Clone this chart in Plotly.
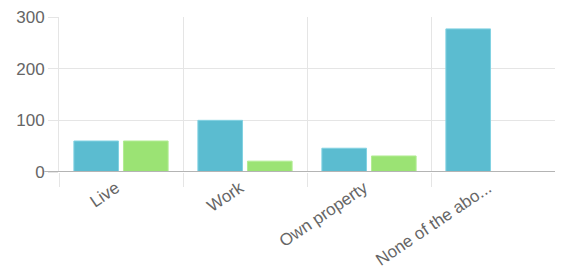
import plotly.graph_objects as go

categories = ["Live", "Work", "Own property", "None of the abo..."]
series_a = [60, 100, 46, 277]
series_b = [60, 21, 31, 0]
y_ticks = [0, 100, 200, 300]

xs = list(range(len(categories)))
font = dict(family="Liberation Sans, Arial, sans-serif", size=17, color="#666666")

# page body has an 8px default margin: compensate in figure size/margins
fig = go.Figure()
fig.add_bar(x=xs, y=series_a, marker=dict(color="#5bbcd0", line=dict(color="#82d2e2", width=1)))
fig.add_bar(x=xs, y=series_b, marker=dict(color="#9be374", line=dict(color="#b2ec93", width=1)))
# invisible trace to drive the label axis
fig.add_scatter(x=xs, y=[0]*len(xs), xaxis="x2", mode="markers", marker=dict(opacity=0), hoverinfo="skip")

fig.update_layout(
    width=556, height=261,
    margin=dict(l=51, r=9, t=9, b=97),
    paper_bgcolor="white", plot_bgcolor="white",
    showlegend=False,
    barmode="group", bargap=0.2, bargroupgap=0.1,
    font=font,
    xaxis=dict(
        range=[-0.5, 3.5], tickvals=[-0.5, 0.5, 1.5, 2.5], showticklabels=False,
        showgrid=True, gridcolor="#e5e5e5", gridwidth=1,
        ticks="outside", ticklen=14, tickcolor="#e5e5e5", tickwidth=1,
        zeroline=False, showline=False, automargin=False,
    ),
    xaxis2=dict(
        range=[-0.5, 3.5], overlaying="x", side="bottom", anchor="y",
        tickvals=xs, ticktext=categories, tickangle=-34,
        showgrid=False, zeroline=False, showline=False,
        ticks="", ticklen=0, ticklabelshift=-5, ticklabelstandoff=2,
        tickfont=font, automargin=False, ticklabeloverflow="allow",
    ),
    yaxis=dict(
        range=[0, 300], tickvals=y_ticks, showgrid=True, gridcolor="#e5e5e5", gridwidth=1,
        ticks="outside", ticklen=10, tickcolor="#e5e5e5",
        zeroline=False, showline=True, linecolor="#e5e5e5", linewidth=1,
        tickfont=font, automargin=False, ticklabeloverflow="allow",
    ),
    shapes=[dict(type="line", xref="paper", yref="y", x0=-0.03, x1=1, y0=0, y1=0,
                 line=dict(color="#b4b4b4", width=2), layer="above")],
)

fig.write_html("out.html")
